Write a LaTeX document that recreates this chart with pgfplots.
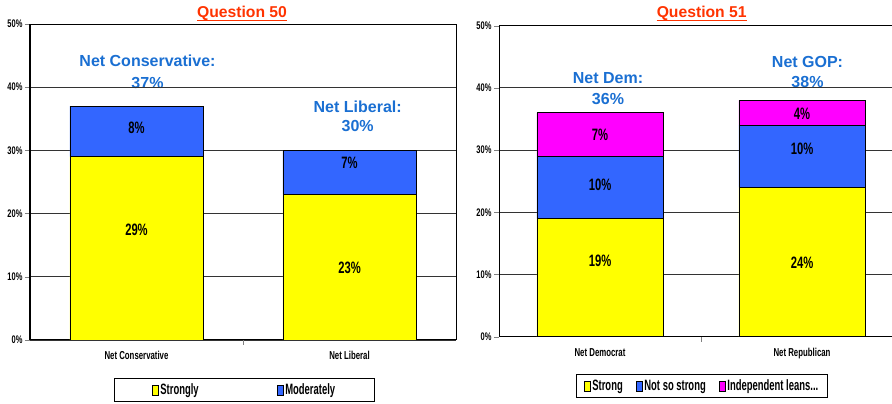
\documentclass[border=0pt]{standalone}
\usepackage{pgfplots}
\pgfplotsset{compat=1.18}
\usepackage{fontspec}
\setmainfont{Liberation Sans}
\newfontfamily\nb[FakeStretch=0.68]{Liberation Sans}
\newfontfamily\nbl[FakeStretch=0.63]{Liberation Sans}
\definecolor{byel}{HTML}{FFFF00}
\definecolor{bblue}{HTML}{3366FF}
\definecolor{bmag}{HTML}{FF00FF}
\definecolor{qred}{HTML}{FF3300}
\definecolor{tblue}{HTML}{1A6FD2}
\tikzset{lab/.style={font=\nb\bfseries\fontsize{16.5}{18}\selectfont, text=black}}
\pgfplotsset{
  mybar/.style={
    scale only axis, anchor=south west,
    ybar stacked, bar width=0.625,
    ymin=0, ymax=50, ytick={0,10,...,50},
    /pgf/number format/assume math mode=true,
    yticklabel={\pgfmathprintnumber{\tick}\%},
    yticklabel style={font=\nb\bfseries\fontsize{11}{12}\selectfont, xshift=1pt},
    tick align=outside, major tick length=5pt,
    ytick pos=left, xtick pos=bottom,
    xtick={0.5}, xticklabels={},
    extra x ticks={0,1},
    extra x tick style={major tick length=0pt, tick style={draw=none}},
    xticklabel style={font=\nb\bfseries\fontsize{11.5}{13}\selectfont, yshift=-8pt},
    ymajorgrids, grid style={black!80, line width=0.8pt},
    axis line style={line width=1pt},
    every axis plot/.append style={draw=black, line width=0.6pt},
    legend image code/.code={\draw[#1, draw=black, line width=0.6pt] (0pt,-5pt) rectangle (6pt,5pt);},
    legend style={font=\nbl\bfseries\fontsize{15}{16}\selectfont, draw=black, line width=0.8pt, legend columns=-1, anchor=center},
  },
}
\begin{document}
\begin{tikzpicture}[x=1pt,y=1pt]
\path[use as bounding box] (0,0) rectangle (892,404);
% titles
\node[font=\bfseries\fontsize{15.7}{18}\selectfont, text=qred] at (242,391) {Question 50};
\draw[qred, line width=1.3pt] (197,383.3) -- (287,383.3);
\node[font=\bfseries\fontsize{15.7}{18}\selectfont, text=qred] at (701.7,391) {Question 51};
\draw[qred, line width=1.3pt] (656.7,383.3) -- (746.7,383.3);
% annotations
\begin{scope}[every node/.style={font=\bfseries\fontsize{16}{18}\selectfont, text=tblue}]
\node at (147.5,343) {Net Conservative:};
\node at (147.5,321) {37\%};
\node at (357.7,297.5) {Net Liberal:};
\node at (357.7,278.3) {30\%};
\node at (608,325.5) {Net Dem:};
\node at (608,305) {36\%};
\node at (807.5,342.5) {Net GOP:};
\node at (807.5,322) {38\%};
\end{scope}

\begin{axis}[mybar, at={(30pt,64pt)}, width=426pt, height=316pt,
  xmin=-0.5, xmax=1.5,
  extra x tick labels={Net Conservative, Net Liberal},
  legend style={at={(0.5035,-0.158)}, inner xsep=37pt, inner ysep=3.5pt,
    /tikz/every even column/.append style={column sep=76pt}},
]
\addplot[fill=byel] coordinates {(0,29) (1,23)};
\addlegendentry{Strongly}
\addplot[fill=bblue] coordinates {(0,8) (1,7)};
\addlegendentry{Moderately}
\draw[line width=1.6pt] (rel axis cs:0,0) -- (rel axis cs:1,0);
\draw[line width=1.5pt] (rel axis cs:0,1) -- (rel axis cs:1,1);
\coordinate (a1) at (axis cs:0,17.4);
\coordinate (a2) at (axis cs:0,33.5);
\coordinate (a3) at (axis cs:1,11.4);
\coordinate (a4) at (axis cs:1,28.0);
\end{axis}
\node[lab] at (a1) {29\%};
\node[lab] at (a2) {8\%};
\node[lab] at (a3) {23\%};
\node[lab] at (a4) {7\%};

\begin{axis}[mybar, at={(499pt,67.3pt)}, width=400pt, height=311pt,
  xmin=-0.5, xmax=1.480,
  axis x line*=bottom, axis y line*=left,
  extra x tick labels={Net Democrat, Net Republican},
  legend style={at={(0.5075,-0.1585)}, inner xsep=7pt, inner ysep=3.5pt,
    /tikz/every even column/.append style={column sep=11pt}},
]
\addplot[fill=byel] coordinates {(0,19) (1,24)};
\addlegendentry{Strong}
\addplot[fill=bblue] coordinates {(0,10) (1,10)};
\addlegendentry{Not so strong}
\addplot[fill=bmag] coordinates {(0,7) (1,4)};
\addlegendentry{Independent leans{.}{.}{.}}
\draw[line width=1.6pt] (rel axis cs:0,0) -- (rel axis cs:1,0);
\draw[line width=1.5pt] (rel axis cs:0,1) -- (rel axis cs:1,1);
\coordinate (b1) at (axis cs:0,12.2);
\coordinate (b2) at (axis cs:0,24.4);
\coordinate (b3) at (axis cs:0,32.5);
\coordinate (b4) at (axis cs:1,11.8);
\coordinate (b5) at (axis cs:1,30.2);
\coordinate (b6) at (axis cs:1,35.8);
\end{axis}
\node[lab] at (b1) {19\%};
\node[lab] at (b2) {10\%};
\node[lab] at (b3) {7\%};
\node[lab] at (b4) {24\%};
\node[lab] at (b5) {10\%};
\node[lab] at (b6) {4\%};
\end{tikzpicture}
\end{document}
